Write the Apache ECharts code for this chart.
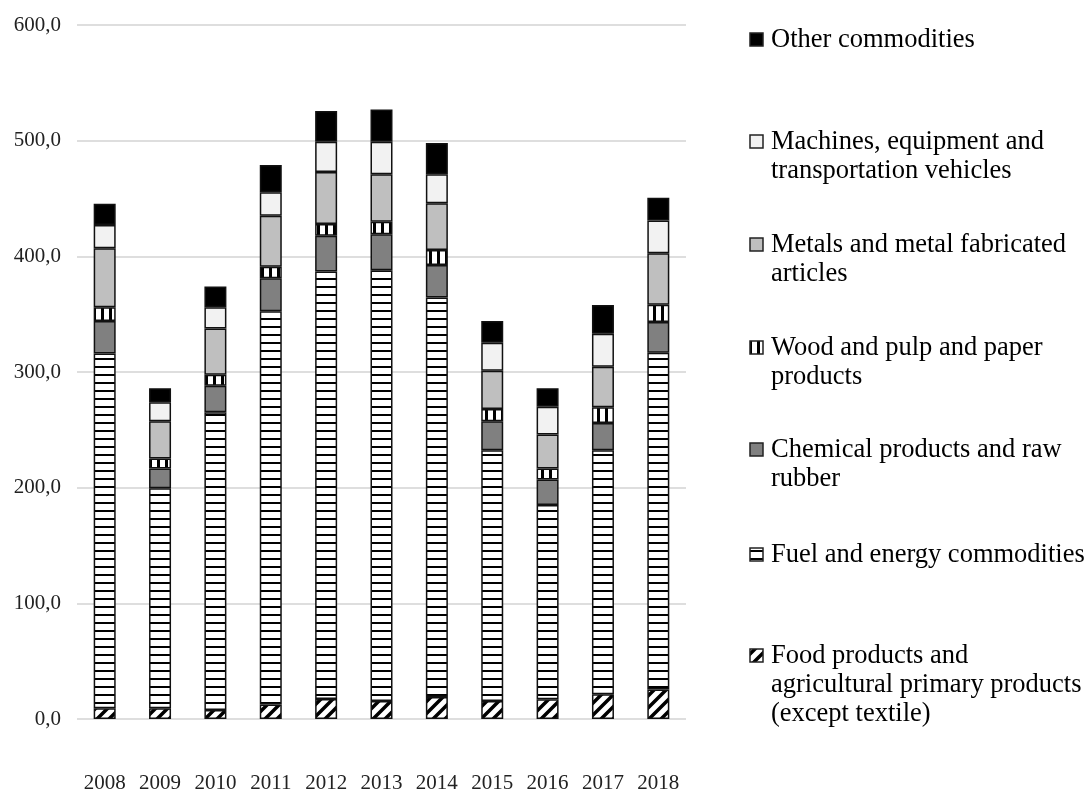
<!DOCTYPE html>
<html>
<head>
<meta charset="utf-8">
<script src="https://cdn.jsdelivr.net/npm/echarts@6/dist/echarts.min.js"></script>
<style>
  html, body { margin: 0; padding: 0; background: #fff; }
  #chart { width: 1088px; height: 794px; }
</style>
</head>
<body>
<div id="chart"></div>
<script>
// Commodity groups by year, stacked from the bottom up
const years = ['2008', '2009', '2010', '2011', '2012', '2013', '2014', '2015', '2016', '2017', '2018'];
const food     = [9.2, 9.2, 7.7, 12.6, 17.2, 15.5, 19.0, 15.5, 17.0, 21.5, 25.5];
const fuel     = [306.8, 190.2, 257.5, 339.9, 369.6, 372.5, 345.5, 216.9, 168.0, 210.9, 291.2];
const chemical = [28.0, 17.2, 23.0, 28.5, 31.0, 31.0, 28.0, 25.1, 22.0, 23.4, 26.6];
const wood     = [12.0, 8.6, 9.4, 10.0, 10.2, 10.8, 12.9, 10.5, 9.6, 13.7, 14.9];
const metals   = [51.0, 32.3, 40.0, 44.0, 45.0, 41.2, 40.6, 33.0, 29.4, 35.0, 44.4];
const machines = [20.0, 16.3, 18.4, 20.5, 26.0, 28.0, 25.0, 24.3, 24.0, 28.5, 28.4];
const other    = [18.5, 12.2, 18.0, 23.5, 26.6, 28.0, 26.9, 18.7, 16.0, 25.0, 19.6];

const seriesNames = [
  'Food products and agricultural primary products (except textile)',
  'Fuel and energy commodities',
  'Chemical products and raw rubber',
  'Wood and pulp and paper products',
  'Metals and metal fabricated articles',
  'Machines, equipment and transportation vehicles',
  'Other commodities'
];
// Legend text as it wraps on the right-hand side
const legendLabels = [
  'Food products and\nagricultural primary products\n(except textile)',
  'Fuel and energy commodities',
  'Chemical products and raw\nrubber',
  'Wood and pulp and paper\nproducts',
  'Metals and metal fabricated\narticles',
  'Machines, equipment and\ntransportation vehicles',
  'Other commodities'
];
const yTicks = [0, 100, 200, 300, 400, 500, 600];

// Fill patterns
function tile(w, h, draw) {
  const c = document.createElement('canvas');
  c.width = w; c.height = h;
  const g = c.getContext('2d');
  g.fillStyle = '#fff';
  g.fillRect(0, 0, w, h);
  g.fillStyle = '#000';
  g.strokeStyle = '#000';
  draw(g);
  return { image: c, repeat: 'repeat' };
}
const fuelPattern = tile(8, 8, g => g.fillRect(0, 6, 8, 2));
const woodPattern = tile(8, 8, g => g.fillRect(5, 0, 3, 8));
const foodPattern = tile(12, 12, g => {
  g.lineWidth = 3.5;
  g.beginPath();
  g.moveTo(0, 12); g.lineTo(12, 0);
  g.moveTo(-6, 6); g.lineTo(6, -6);
  g.moveTo(6, 18); g.lineTo(18, 6);
  g.stroke();
});

const fills = [foodPattern, fuelPattern, '#808080', woodPattern, '#bfbfbf', '#f2f2f2', '#000000'];
const values = [food, fuel, chemical, wood, metals, machines, other];

const chart = echarts.init(document.getElementById('chart'), null, { renderer: 'canvas' });

const series = values.map((arr, i) => ({
  name: seriesNames[i],
  type: 'bar',
  stack: 'total',
  barWidth: 22,
  data: arr,
  itemStyle: { color: fills[i], borderColor: '#111', borderWidth: 1.5 },
  emphasis: { disabled: true }
}));

// Legend drawn on the right, first line of each entry beside its swatch
const legendFirstLineY = [656, 555, 450, 348, 245, 142, 40];
const graphics = [];
legendLabels.forEach((label, i) => {
  const cy = legendFirstLineY[i];
  graphics.push({
    type: 'rect',
    shape: { x: 750, y: cy - 7, width: 13, height: 13 },
    style: { fill: fills[i], stroke: '#222', lineWidth: 1.5 }
  });
  graphics.push({
    type: 'text',
    x: 771,
    y: cy - 14.5,
    style: {
      text: label,
      font: '26.5px "Liberation Serif", "Times New Roman", serif',
      fill: '#000',
      lineHeight: 29,
      verticalAlign: 'top',
      align: 'left'
    }
  });
});

chart.setOption({
  animation: false,
  grid: { left: 77, width: 609, top: 25, bottom: 70, containLabel: false },
  xAxis: {
    type: 'category',
    data: years,
    axisLine: { show: false },
    axisTick: { show: false },
    axisLabel: {
      margin: 54,
      color: '#222',
      fontFamily: '"Liberation Serif", "Times New Roman", serif',
      fontSize: 21
    }
  },
  yAxis: {
    type: 'value',
    min: yTicks[0],
    max: yTicks[yTicks.length - 1],
    interval: 100,
    axisLine: { show: false },
    axisTick: { show: false },
    splitLine: { lineStyle: { color: '#dedede', width: 2 } },
    axisLabel: {
      margin: 16,
      color: '#222',
      fontFamily: '"Liberation Serif", "Times New Roman", serif',
      fontSize: 21,
      formatter: v => v.toFixed(1).replace('.', ',')
    }
  },
  series: series,
  graphic: graphics
});
</script>
</body>
</html>
